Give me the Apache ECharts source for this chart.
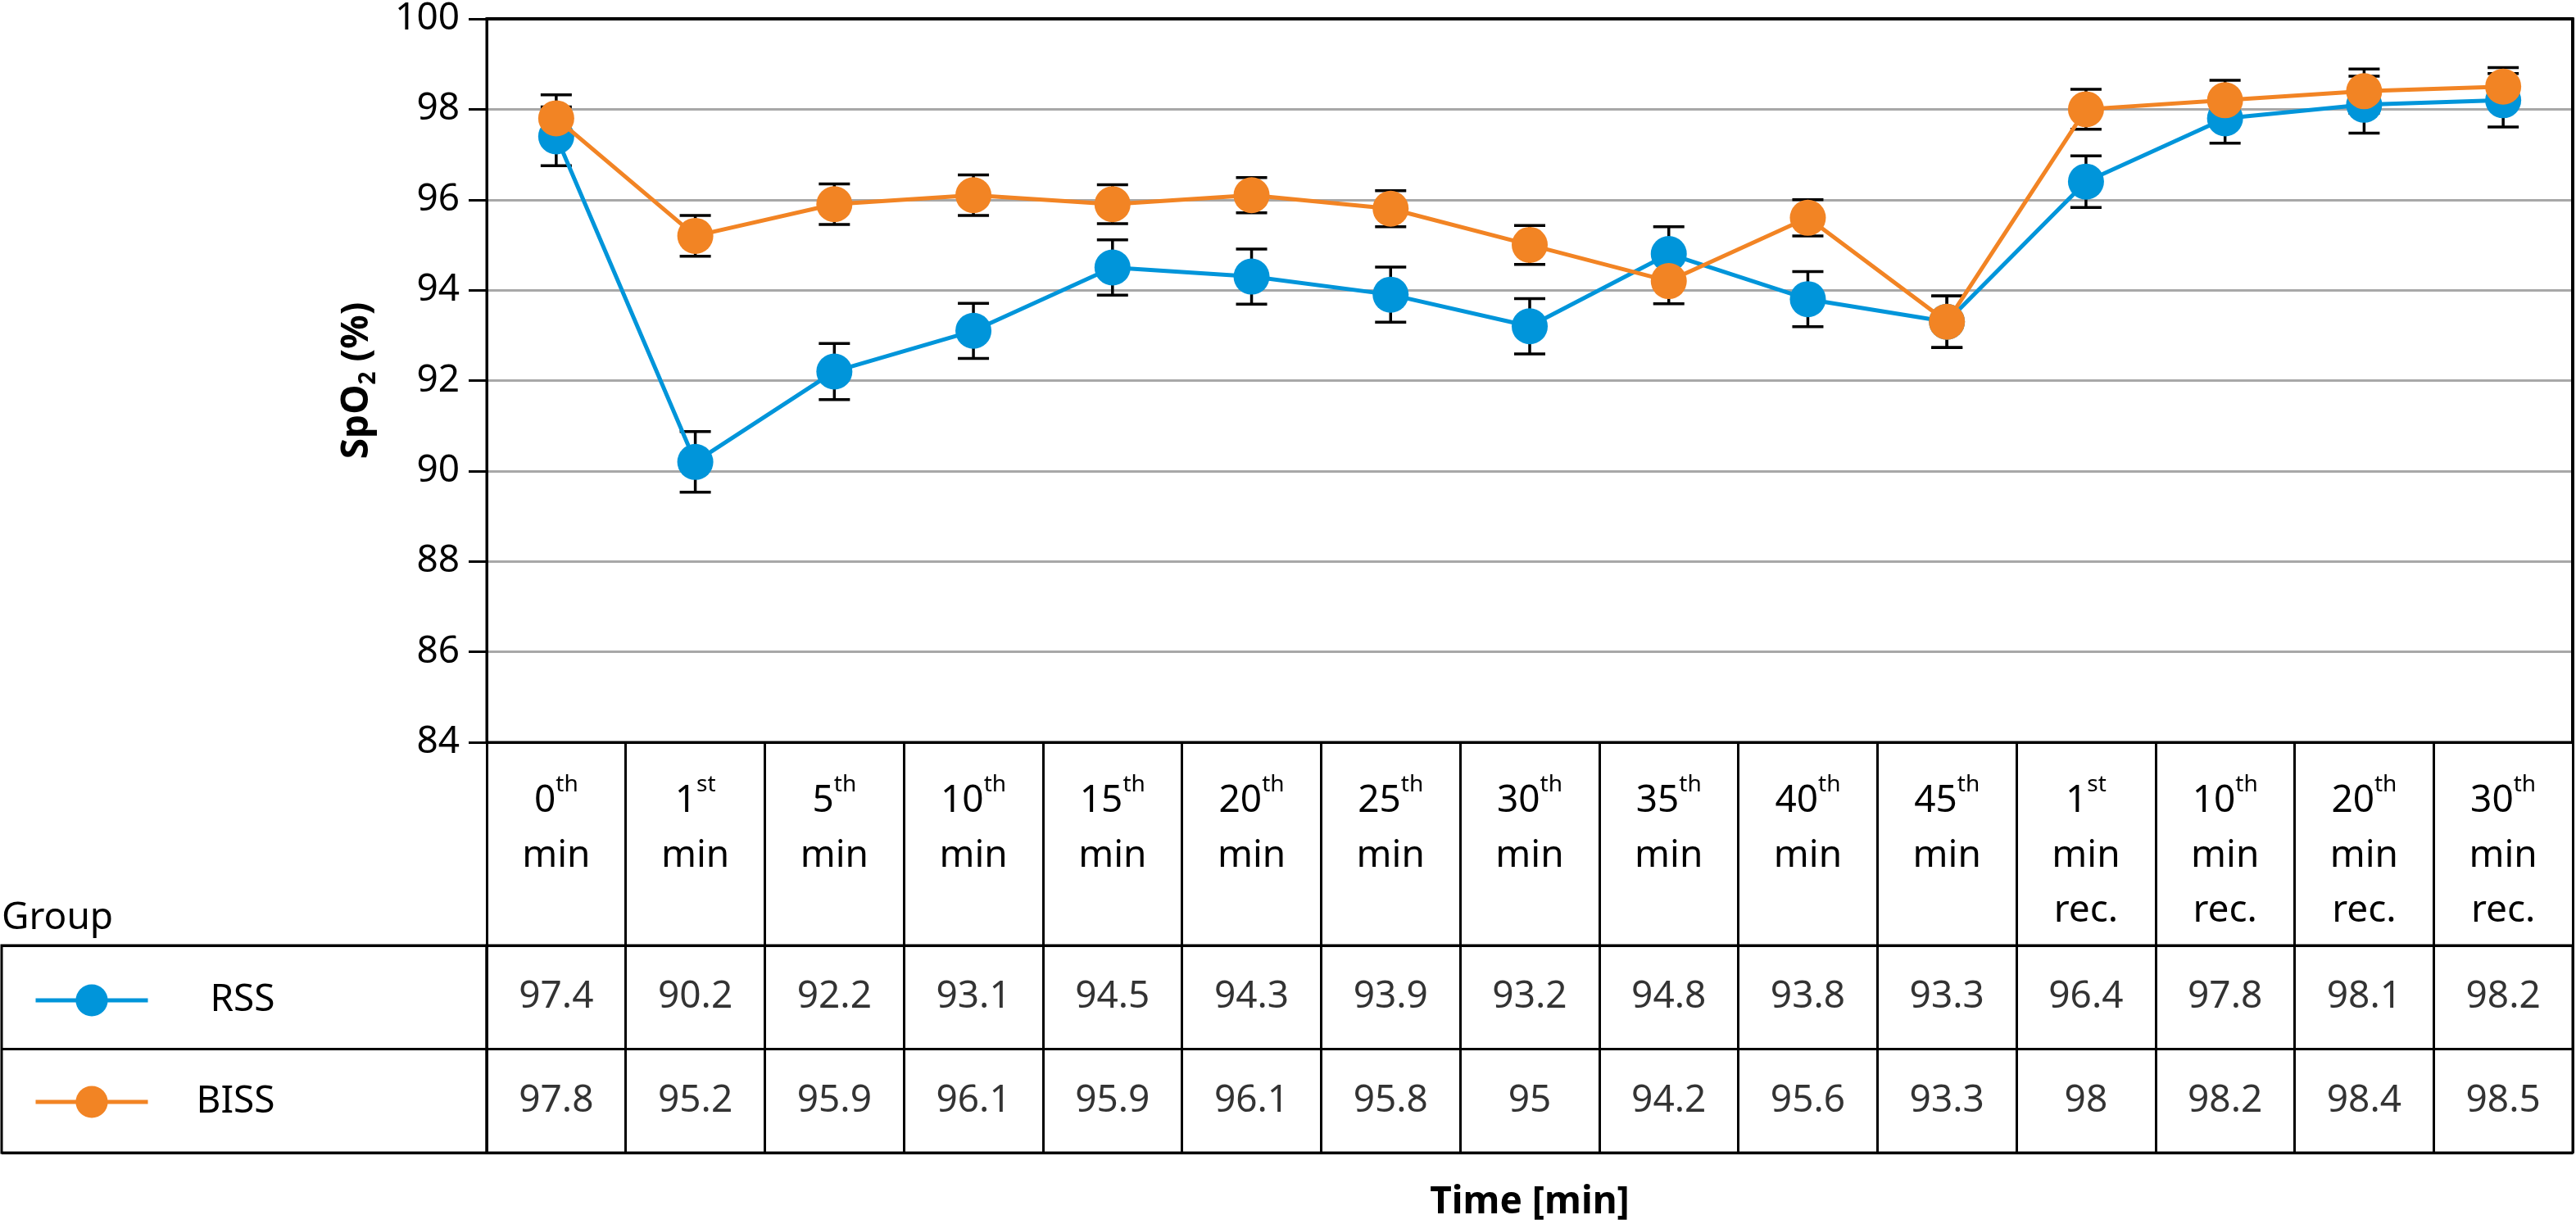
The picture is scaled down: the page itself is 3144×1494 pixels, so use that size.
<!DOCTYPE html>
<html>
<head>
<meta charset="utf-8">
<script src="https://cdn.jsdelivr.net/npm/echarts@6/dist/echarts.min.js"></script>
<style>
html,body{margin:0;padding:0;background:#fff;}
#chart{width:3144px;height:1494px;}
</style>
</head>
<body>
<div id="chart"></div>
<script>
// ---- data ----
const categories = ['0th min','1st min','5th min','10th min','15th min','20th min','25th min','30th min','35th min','40th min','45th min','1st min rec.','10th min rec.','20th min rec.','30th min rec.'];
const groupNames = ['RSS','BISS'];
const rssMean  = [97.4, 90.2, 92.2, 93.1, 94.5, 94.3, 93.9, 93.2, 94.8, 93.8, 93.3, 96.4, 97.8, 98.1, 98.2];
const bissMean = [97.8, 95.2, 95.9, 96.1, 95.9, 96.1, 95.8, 95, 94.2, 95.6, 93.3, 98, 98.2, 98.4, 98.5];
const rssErr   = [0.65, 0.67, 0.62, 0.61, 0.61, 0.61, 0.61, 0.61, 0.60, 0.61, 0.57, 0.57, 0.55, 0.63, 0.59];
const bissErr  = [0.52, 0.45, 0.45, 0.45, 0.43, 0.39, 0.40, 0.43, 0.50, 0.40, 0.57, 0.44, 0.44, 0.49, 0.42];
const yTicks = {min: 84, max: 100, interval: 2};

// ---- style ----
const FONT = 'Noto Sans';
const BLUE = '#0095DA';
const ORANGE = '#F28424';
const FS = 46;

function headerFormatter(v) {
  const m = v.match(/^(\d+)(st|nd|rd|th) (.+)$/);
  const rest = m[3].split(' ').map(w => '{n|' + w + '}').join('\n');
  return '{n|' + m[1] + '}{s|' + m[2] + '}\n' + rest;
}

function renderErr(params, api) {
  const i = api.value(0), m = api.value(1), e = api.value(2);
  const t = api.coord([i, m + e]), b = api.coord([i, m - e]);
  const hw = 19;
  const style = {stroke: '#000', lineWidth: 3.5, fill: null};
  return {type: 'group', children: [
    {type: 'line', shape: {x1: t[0], y1: t[1], x2: b[0], y2: b[1]}, style: style},
    {type: 'line', shape: {x1: t[0] - hw, y1: t[1], x2: t[0] + hw, y2: t[1]}, style: style},
    {type: 'line', shape: {x1: b[0] - hw, y1: b[1], x2: b[0] + hw, y2: b[1]}, style: style}
  ]};
}

const chart = echarts.init(document.getElementById('chart'), null, {renderer: 'canvas'});
const rowCats = groupNames.slice().reverse(); // BISS bottom, RSS top

const option = {
  animation: false,
  backgroundColor: '#fff',
  textStyle: {fontFamily: FONT, color: '#000'},
  grid: [
    {left: 594, right: 4, top: 12, height: 894, show: true, borderColor: '#000', borderWidth: 3, backgroundColor: 'transparent'},
    {left: 594, right: 4, top: 1154, height: 253, show: true, borderColor: '#000', borderWidth: 3, backgroundColor: 'transparent'},
    {left: 2, width: 592, top: 1154, height: 253, show: true, borderColor: '#000', borderWidth: 3, backgroundColor: 'transparent'}
  ],
  legend: {
    data: groupNames,
    orient: 'vertical',
    left: 36,
    top: 1193,
    itemWidth: 137,
    itemHeight: 49,
    itemGap: 78,
    selectedMode: false,
    lineStyle: {width: 5},
    textStyle: {fontFamily: FONT, color: '#000', fontSize: FS,
      rich: {t: {fontFamily: FONT, fontSize: FS, width: 150, align: 'right', lineHeight: 49, color: '#000'}}},
    formatter: name => '{t|' + name + '}'
  },
  xAxis: [
    {
      type: 'category', gridIndex: 0, data: categories, boundaryGap: true,
      axisLine: {show: true, lineStyle: {color: '#000', width: 3}},
      axisTick: {show: true, inside: false, length: 248, interval: 0, lineStyle: {color: '#000', width: 3}},
      splitLine: {show: false},
      axisLabel: {
        interval: 0, margin: 38, verticalAlign: 'top',
        formatter: headerFormatter,
        rich: {
          n: {fontFamily: FONT, fontSize: FS, lineHeight: 67, color: '#000'},
          s: {fontFamily: FONT, fontSize: 28, lineHeight: 64, verticalAlign: 'top', color: '#000'}
        }
      }
    },
    {
      type: 'category', gridIndex: 1, data: categories, boundaryGap: true,
      axisLine: {show: false}, axisTick: {show: false}, axisLabel: {show: false},
      splitLine: {show: true, interval: 0, lineStyle: {color: '#000', width: 3}},
      name: 'Time [min]', nameLocation: 'middle', nameGap: 38,
      nameTextStyle: {fontFamily: FONT, fontSize: FS, fontWeight: 'bold', color: '#000'}
    },
    {
      type: 'value', gridIndex: 2, show: false
    },
    {
      type: 'category', gridIndex: 0, data: categories, position: 'top', z: 5,
      axisLine: {show: true, lineStyle: {color: '#000', width: 4}},
      axisTick: {show: false}, axisLabel: {show: false}, splitLine: {show: false}
    }
  ],
  yAxis: [
    {
      type: 'value', gridIndex: 0, min: yTicks.min, max: yTicks.max, interval: yTicks.interval,
      axisLine: {show: true, lineStyle: {color: '#000', width: 3}},
      axisTick: {show: true, inside: false, length: 22, lineStyle: {color: '#000', width: 3}},
      splitLine: {show: true, lineStyle: {color: '#A8A8A8', width: 3}},
      axisLabel: {fontFamily: FONT, fontSize: FS, color: '#000', margin: 33},
      name: '{a|SpO}{s|2}{a| (%)}', nameLocation: 'middle', nameGap: 130,
      nameTextStyle: {
        rich: {
          a: {fontFamily: FONT, fontSize: FS, fontWeight: 'bold', lineHeight: 56, color: '#000'},
          s: {fontFamily: FONT, fontSize: 28, fontWeight: 'bold', lineHeight: 36, verticalAlign: 'bottom', color: '#000'}
        }
      }
    },
    {
      type: 'category', gridIndex: 1, data: rowCats,
      axisLine: {show: false}, axisTick: {show: false}, axisLabel: {show: false},
      splitLine: {show: true, interval: 0, lineStyle: {color: '#000', width: 3}}
    },
    {
      type: 'category', gridIndex: 2, data: rowCats,
      axisLine: {show: false}, axisTick: {show: false}, axisLabel: {show: false},
      splitLine: {show: true, interval: 0, lineStyle: {color: '#000', width: 3}},
      name: 'Group', nameLocation: 'end', nameGap: 10,
      nameTextStyle: {fontFamily: FONT, fontSize: FS, color: '#000', align: 'left', verticalAlign: 'bottom'}
    },
    {
      type: 'value', gridIndex: 0, position: 'right', min: yTicks.min, max: yTicks.max, z: 5,
      axisLine: {show: true, lineStyle: {color: '#000', width: 4}},
      axisTick: {show: false}, axisLabel: {show: false}, splitLine: {show: false}
    }
  ],
  series: [
    {
      type: 'custom', name: 'RSS err', xAxisIndex: 0, yAxisIndex: 0, z: 1,
      renderItem: renderErr, encode: {x: 0, y: 1},
      data: rssMean.map((v, i) => [i, v, rssErr[i]])
    },
    {
      type: 'custom', name: 'BISS err', xAxisIndex: 0, yAxisIndex: 0, z: 1,
      renderItem: renderErr, encode: {x: 0, y: 1},
      data: bissMean.map((v, i) => [i, v, bissErr[i]])
    },
    {
      type: 'line', name: 'RSS', xAxisIndex: 0, yAxisIndex: 0, z: 2,
      data: rssMean, symbol: 'circle', symbolSize: 44, showAllSymbol: true,
      lineStyle: {color: BLUE, width: 5}, itemStyle: {color: BLUE}, color: BLUE
    },
    {
      type: 'line', name: 'BISS', xAxisIndex: 0, yAxisIndex: 0, z: 3,
      data: bissMean, symbol: 'circle', symbolSize: 44, showAllSymbol: true,
      lineStyle: {color: ORANGE, width: 5}, itemStyle: {color: ORANGE}, color: ORANGE
    },
    {
      type: 'scatter', name: 'RSS values', xAxisIndex: 1, yAxisIndex: 1,
      symbol: 'circle', symbolSize: 1, itemStyle: {color: 'rgba(0,0,0,0)'},
      label: {show: true, position: 'inside', fontFamily: FONT, fontSize: FS, color: '#000', formatter: p => String(p.value[2])},
      data: rssMean.map((v, i) => [categories[i], 'RSS', v])
    },
    {
      type: 'scatter', name: 'BISS values', xAxisIndex: 1, yAxisIndex: 1,
      symbol: 'circle', symbolSize: 1, itemStyle: {color: 'rgba(0,0,0,0)'},
      label: {show: true, position: 'inside', fontFamily: FONT, fontSize: FS, color: '#000', formatter: p => String(p.value[2])},
      data: bissMean.map((v, i) => [categories[i], 'BISS', v])
    }
  ]
};
chart.setOption(option);
</script>
</body>
</html>
